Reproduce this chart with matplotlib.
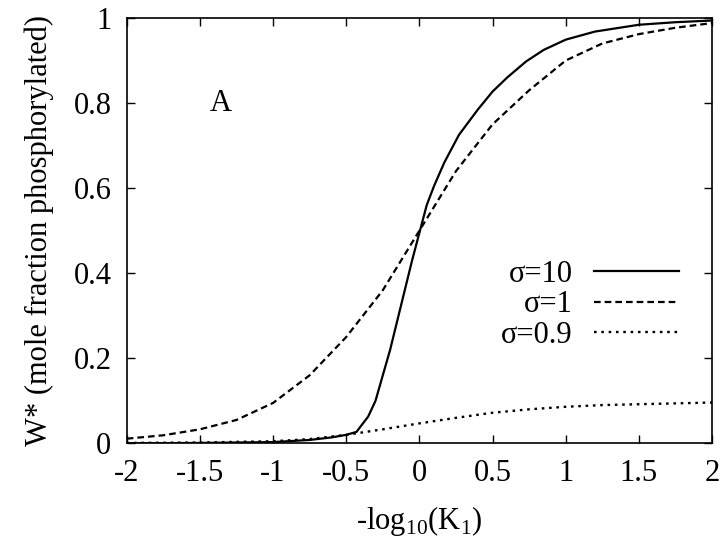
import matplotlib
matplotlib.use("Agg")
import matplotlib.pyplot as plt

plt.rcParams['font.family'] = ['Liberation Serif', 'DejaVu Serif']
plt.rcParams['mathtext.fontset'] = 'custom'
plt.rcParams['mathtext.rm'] = 'Liberation Serif'

# sigma = 10 (solid)
x_s10 = [-2, -1.5, -1, -0.75, -0.6, -0.5, -0.43, -0.35, -0.3, -0.25, -0.2, -0.15,
         -0.1, -0.05, 0, 0.05, 0.1, 0.17, 0.27, 0.4, 0.5, 0.6, 0.73, 0.85, 1,
         1.2, 1.5, 1.75, 2]
y_s10 = [0.0, 0.001, 0.003, 0.008, 0.014, 0.02, 0.027, 0.063, 0.10, 0.16, 0.22, 0.29,
         0.36, 0.43, 0.495, 0.56, 0.605, 0.66, 0.725, 0.785, 0.827, 0.86, 0.898, 0.925, 0.949,
         0.968, 0.984, 0.99, 0.994]

# sigma = 1 (dashed)
x_s1 = [-2, -1.75, -1.5, -1.25, -1, -0.75, -0.5, -0.25, 0, 0.25, 0.5, 0.75, 1,
        1.25, 1.5, 1.75, 2]
y_s1 = [0.011, 0.019, 0.033, 0.055, 0.095, 0.16, 0.25, 0.36, 0.50, 0.64, 0.75, 0.83, 0.90,
        0.94, 0.962, 0.977, 0.988]

# sigma = 0.9 (dotted)
x_s09 = [-2, -1.5, -1, -0.75, -0.5, -0.25, 0, 0.25, 0.5, 0.75, 1, 1.25, 1.5, 1.75, 2]
y_s09 = [0.001, 0.002, 0.005, 0.01, 0.02, 0.033, 0.047, 0.06, 0.072, 0.08, 0.086, 0.09,
         0.092, 0.094, 0.096]

labels = ['\u03c3=10', '\u03c3=1', '\u03c3=0.9']

fig = plt.figure(figsize=(7.2, 5.44), dpi=100)
ax = fig.add_axes([0.176, 0.185, 0.813, 0.782])

ax.plot(x_s10, y_s10, color='black', lw=1.6, label=labels[0])
ax.plot(x_s1, y_s1, color='black', lw=1.6, linestyle=(0, (3.0, 1.8)), label=labels[1])
ax.plot(x_s09, y_s09, color='black', lw=1.7, linestyle=(0, (1.1, 2.0)), label=labels[2])

ax.set_xlim(-2, 2)
ax.set_ylim(0, 1)
ax.set_xticks([-2, -1.5, -1, -0.5, 0, 0.5, 1, 1.5, 2])
ax.set_xticklabels(['-2', '-1.5', '-1', '-0.5', '0', '0.5', '1', '1.5', '2'])
ax.set_yticks([0, 0.2, 0.4, 0.6, 0.8, 1])
ax.set_yticklabels(['0', '0.2', '0.4', '0.6', '0.8', '1'])
ax.tick_params(direction='in', length=6, width=1, top=True, right=True,
               labelsize=22, pad=11)
for sp in ax.spines.values():
    sp.set_linewidth(1.2)

ax.set_xlabel('-log$_{\\mathregular{10}}$(K$_{\\mathregular{1}}$)', fontsize=22, labelpad=12)
ax.set_ylabel('W* (mole fraction phosphorylated)', fontsize=22, labelpad=14)

ax.text(-1.36, 0.80, 'A', fontsize=22, ha='center', va='center')

leg = ax.legend(loc='upper right', bbox_to_anchor=(0.965, 0.46), frameon=False,
                fontsize=22, markerfirst=False, handlelength=2.8, handletextpad=0.7,
                labelspacing=0.05, borderaxespad=0)
for t in leg.get_texts():
    t.set_ha('right')

fig.savefig('out.png', dpi=100)
